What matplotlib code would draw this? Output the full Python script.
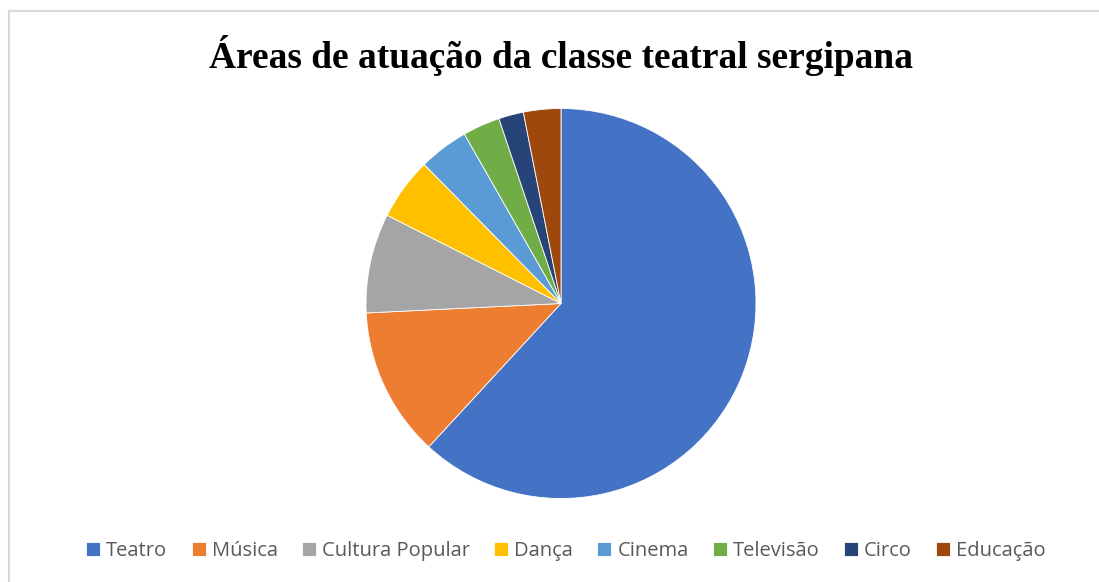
import matplotlib.pyplot as plt
from matplotlib.lines import Line2D

# Areas of work and counts
areas = ["Teatro", "Música", "Cultura Popular", "Dança", "Cinema",
         "Televisão", "Circo", "Educação"]
counts = [60, 12, 8, 5, 4, 3, 2, 3]
colors = ["#4472C4", "#ED7D31", "#A5A5A5", "#FFC000", "#5B9BD5",
          "#70AD47", "#264478", "#9E480E"]

W, H = 1099, 582
fig = plt.figure(figsize=(W / 100, H / 100), dpi=100)

# chart frame (only left and top edges are visible in the crop)
fig.add_artist(Line2D([9 / W, 9 / W], [0, 1 - 11 / H], transform=fig.transFigure,
                      color="#d9d9d9", lw=1.5))
fig.add_artist(Line2D([9 / W, 1], [1 - 11 / H, 1 - 11 / H], transform=fig.transFigure,
                      color="#d9d9d9", lw=1.5))

# pie axes: center (561, 303.5) px, radius 195 px
cx, cy, r = 561, 303.5, 195
ax = fig.add_axes([(cx - r) / W, (H - cy - r) / H, 2 * r / W, 2 * r / H])
wedges, _ = ax.pie(counts, colors=colors, startangle=90, counterclock=False,
                   wedgeprops=dict(edgecolor="white", linewidth=0.6))
ax.set_xlim(-1, 1)
ax.set_ylim(-1, 1)

fig.text(cx / W, 1 - 55 / H, "Áreas de atuação da classe teatral sergipana",
         ha="center", va="center", fontsize=26.9, fontweight="bold",
         family="Liberation Serif")

fig.legend(wedges, areas, loc="center", bbox_to_anchor=(566 / W, 1 - 551 / H),
           ncol=8, frameon=False, handlelength=0.7, handleheight=0.7,
           handletextpad=0.3, columnspacing=1.2,
           prop={"family": "Open Sans", "size": 14.5}, labelcolor="#595959")

fig.savefig("out.png", dpi=100)
